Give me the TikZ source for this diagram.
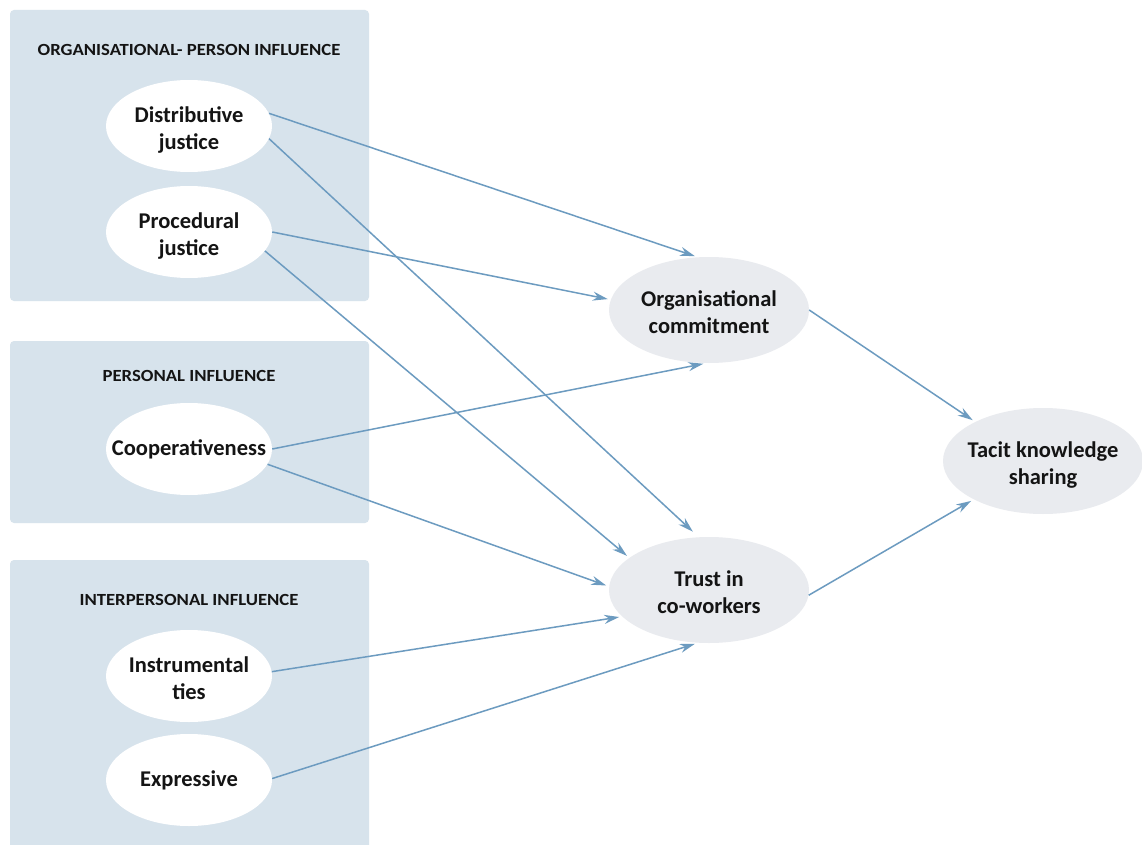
\documentclass[tikz,border=0pt]{standalone}
\usepackage{fontspec}
\setmainfont{Carlito}
\usetikzlibrary{shapes.geometric,arrows.meta}
\definecolor{boxbg}{RGB}{215,227,236}
\definecolor{grayell}{RGB}{233,235,239}
\definecolor{arr}{RGB}{108,155,192}
\definecolor{txt}{RGB}{20,20,20}
\newcommand{\zw}[1]{\makebox[0pt]{\raisebox{-9.5pt}[0pt][0pt]{\begin{tabular}{@{}c@{}}#1\end{tabular}}}}
\newcommand{\zo}[1]{\makebox[0pt]{#1}}
\newcommand{\hdr}[1]{\scalebox{1.1}[1]{#1}}
\begin{document}
\begin{tikzpicture}[x=1pt,y=-1pt,
  groupbox/.style={fill=boxbg,draw=none,rounded corners=4pt},
  header/.style={font=\fontsize{17}{20}\selectfont\bfseries,text=txt},
  whiteell/.style={ellipse,fill=white,draw=none,inner sep=0pt,minimum width=166pt,minimum height=92pt,font=\fontsize{22.5}{27}\selectfont\bfseries,text=txt},
  grayel/.style={ellipse,fill=grayell,draw=none,inner sep=0pt,minimum width=200pt,minimum height=106pt,font=\fontsize{22.5}{27}\selectfont\bfseries,text=txt},
  link/.style={draw=arr,line width=1.5pt,-{Stealth[length=15pt,width=9pt]},shorten >=3pt}
]
\clip (0,0) rectangle (1142,845);
\fill[white] (0,0) rectangle (1142,845);
% group boxes
\fill[groupbox] (10,10) rectangle (369,301);
\fill[groupbox] (10,341) rectangle (369,523);
\fill[groupbox] (10,560) rectangle (369,860);
% headers
\node[header] (h1) at (189,50) {\hdr{ORGANISATIONAL- PERSON INFLUENCE}};
\node[header] (h2) at (189,376) {\hdr{PERSONAL INFLUENCE}};
\node[header] (h3) at (189,600) {\hdr{INTERPERSONAL INFLUENCE}};
% source ellipses
\node[whiteell] (dj) at (189,126) {\zw{Distributive\\justice}};
\node[whiteell] (pj) at (189,232) {\zw{Procedural\\justice}};
\node[whiteell] (co) at (189,449) {\zo{Cooperativeness}};
\node[whiteell] (it) at (189,676) {\zw{Instrumental\\ties}};
\node[whiteell] (ex) at (189,780) {\zo{Expressive}};
% mediators and outcome
\node[grayel] (oc) at (709,310) {\zw{Organisational\\commitment}};
\node[grayel] (tc) at (709,590) {\zw{Trust in\\co-workers}};
\node[grayel] (tk) at (1043,461) {\zw{Tacit knowledge\\sharing}};
% connectors
\draw[link] (dj.9) -- (oc.102);
\draw[link,shorten >=8pt] (dj.-9) -- (tc.101);
\draw[link] (pj.0) -- (oc.174);
\draw[link] (pj.-14) -- (tc.158);
\draw[link] (co.0) -- (oc.-93);
\draw[link] (co.-11) -- (tc.178);
\draw[link] (it.3) -- (tc.-163);
\draw[link] (ex.1) -- (tc.-102);
\draw[link] (oc.0) -- (tk.150);
\draw[link] (tc.-3) -- (tk.209);
\end{tikzpicture}
\end{document}
